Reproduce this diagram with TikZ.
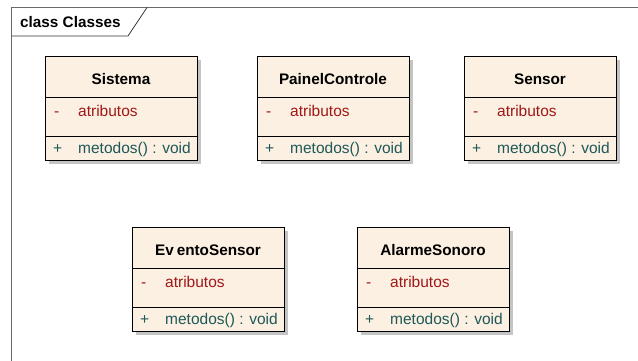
\documentclass[tikz,border=0pt]{standalone}
\usepackage{fontspec}
\setmainfont{Liberation Sans}
\usetikzlibrary{calc}

\definecolor{classfill}{HTML}{FBF0E1}
\definecolor{attrcol}{HTML}{A01818}
\definecolor{opcol}{HTML}{1E5858}
\definecolor{framecol}{HTML}{6A6A6A}
\definecolor{shadowcol}{HTML}{C4C4C4}

\tikzset{
  x=1pt, y=-1pt,
  classtext/.style={inner sep=0pt, font=\fontsize{15.5}{18}\selectfont},
  classtitle/.style={classtext, font=\fontsize{15.3}{18}\selectfont\bfseries},
  attrtext/.style={classtext, text=attrcol, anchor=base west},
  optext/.style={classtext, text=opcol, anchor=base west},
  outline/.style={draw=black, line width=1pt},
}

% \umlclass{id}{left}{top}{title}: a 152 x 104 class box with one attribute and one operation
\newcommand{\umlclass}[4]{%
  \fill[shadowcol] (#2+4,#3+4) rectangle (#2+156,#3+108);
  \node[outline, fill=classfill, minimum width=152pt, minimum height=104pt,
        inner sep=0pt, anchor=north west] (#1) at (#2,#3) {};
  \draw[outline] (#2,#3+41) -- (#2+152,#3+41);
  \draw[outline] (#2,#3+80) -- (#2+152,#3+80);
  \node[classtitle, anchor=base] (#1-title) at (#2+76,#3+28.5) {#4};
  \node[attrtext] (#1-vis1) at (#2+9,#3+60) {-};
  \node[attrtext] (#1-attr) at (#2+33,#3+60) {atributos};
  \node[optext] (#1-vis2) at (#2+8,#3+97) {+};
  \node[optext] (#1-op) at (#2+33,#3+97) {metodos() : void};
}

\begin{document}
\begin{tikzpicture}
  \useasboundingbox (0,0) rectangle (638,360);
  \fill[white] (0,0) rectangle (638,360);

  % diagram frame with its name tab
  \draw[framecol, line width=1.4pt] (11.5,370) -- (11.5,7.5) -- (650,7.5);
  \draw[black!80, line width=0.8pt] (11.5,36) -- (128,36) -- (147,7.5);
  \node[classtitle, anchor=base west] (frametitle) at (20,27) {class Classes};

  \umlclass{sistema}{45}{56}{Sistema}
  \umlclass{painel}{257}{56}{PainelControle}
  \umlclass{sensor}{464}{56}{Sensor}
  \umlclass{evento}{132}{227}{Ev\kern3pt entoSensor}
  \umlclass{alarme}{357}{227}{AlarmeSonoro}
\end{tikzpicture}
\end{document}
